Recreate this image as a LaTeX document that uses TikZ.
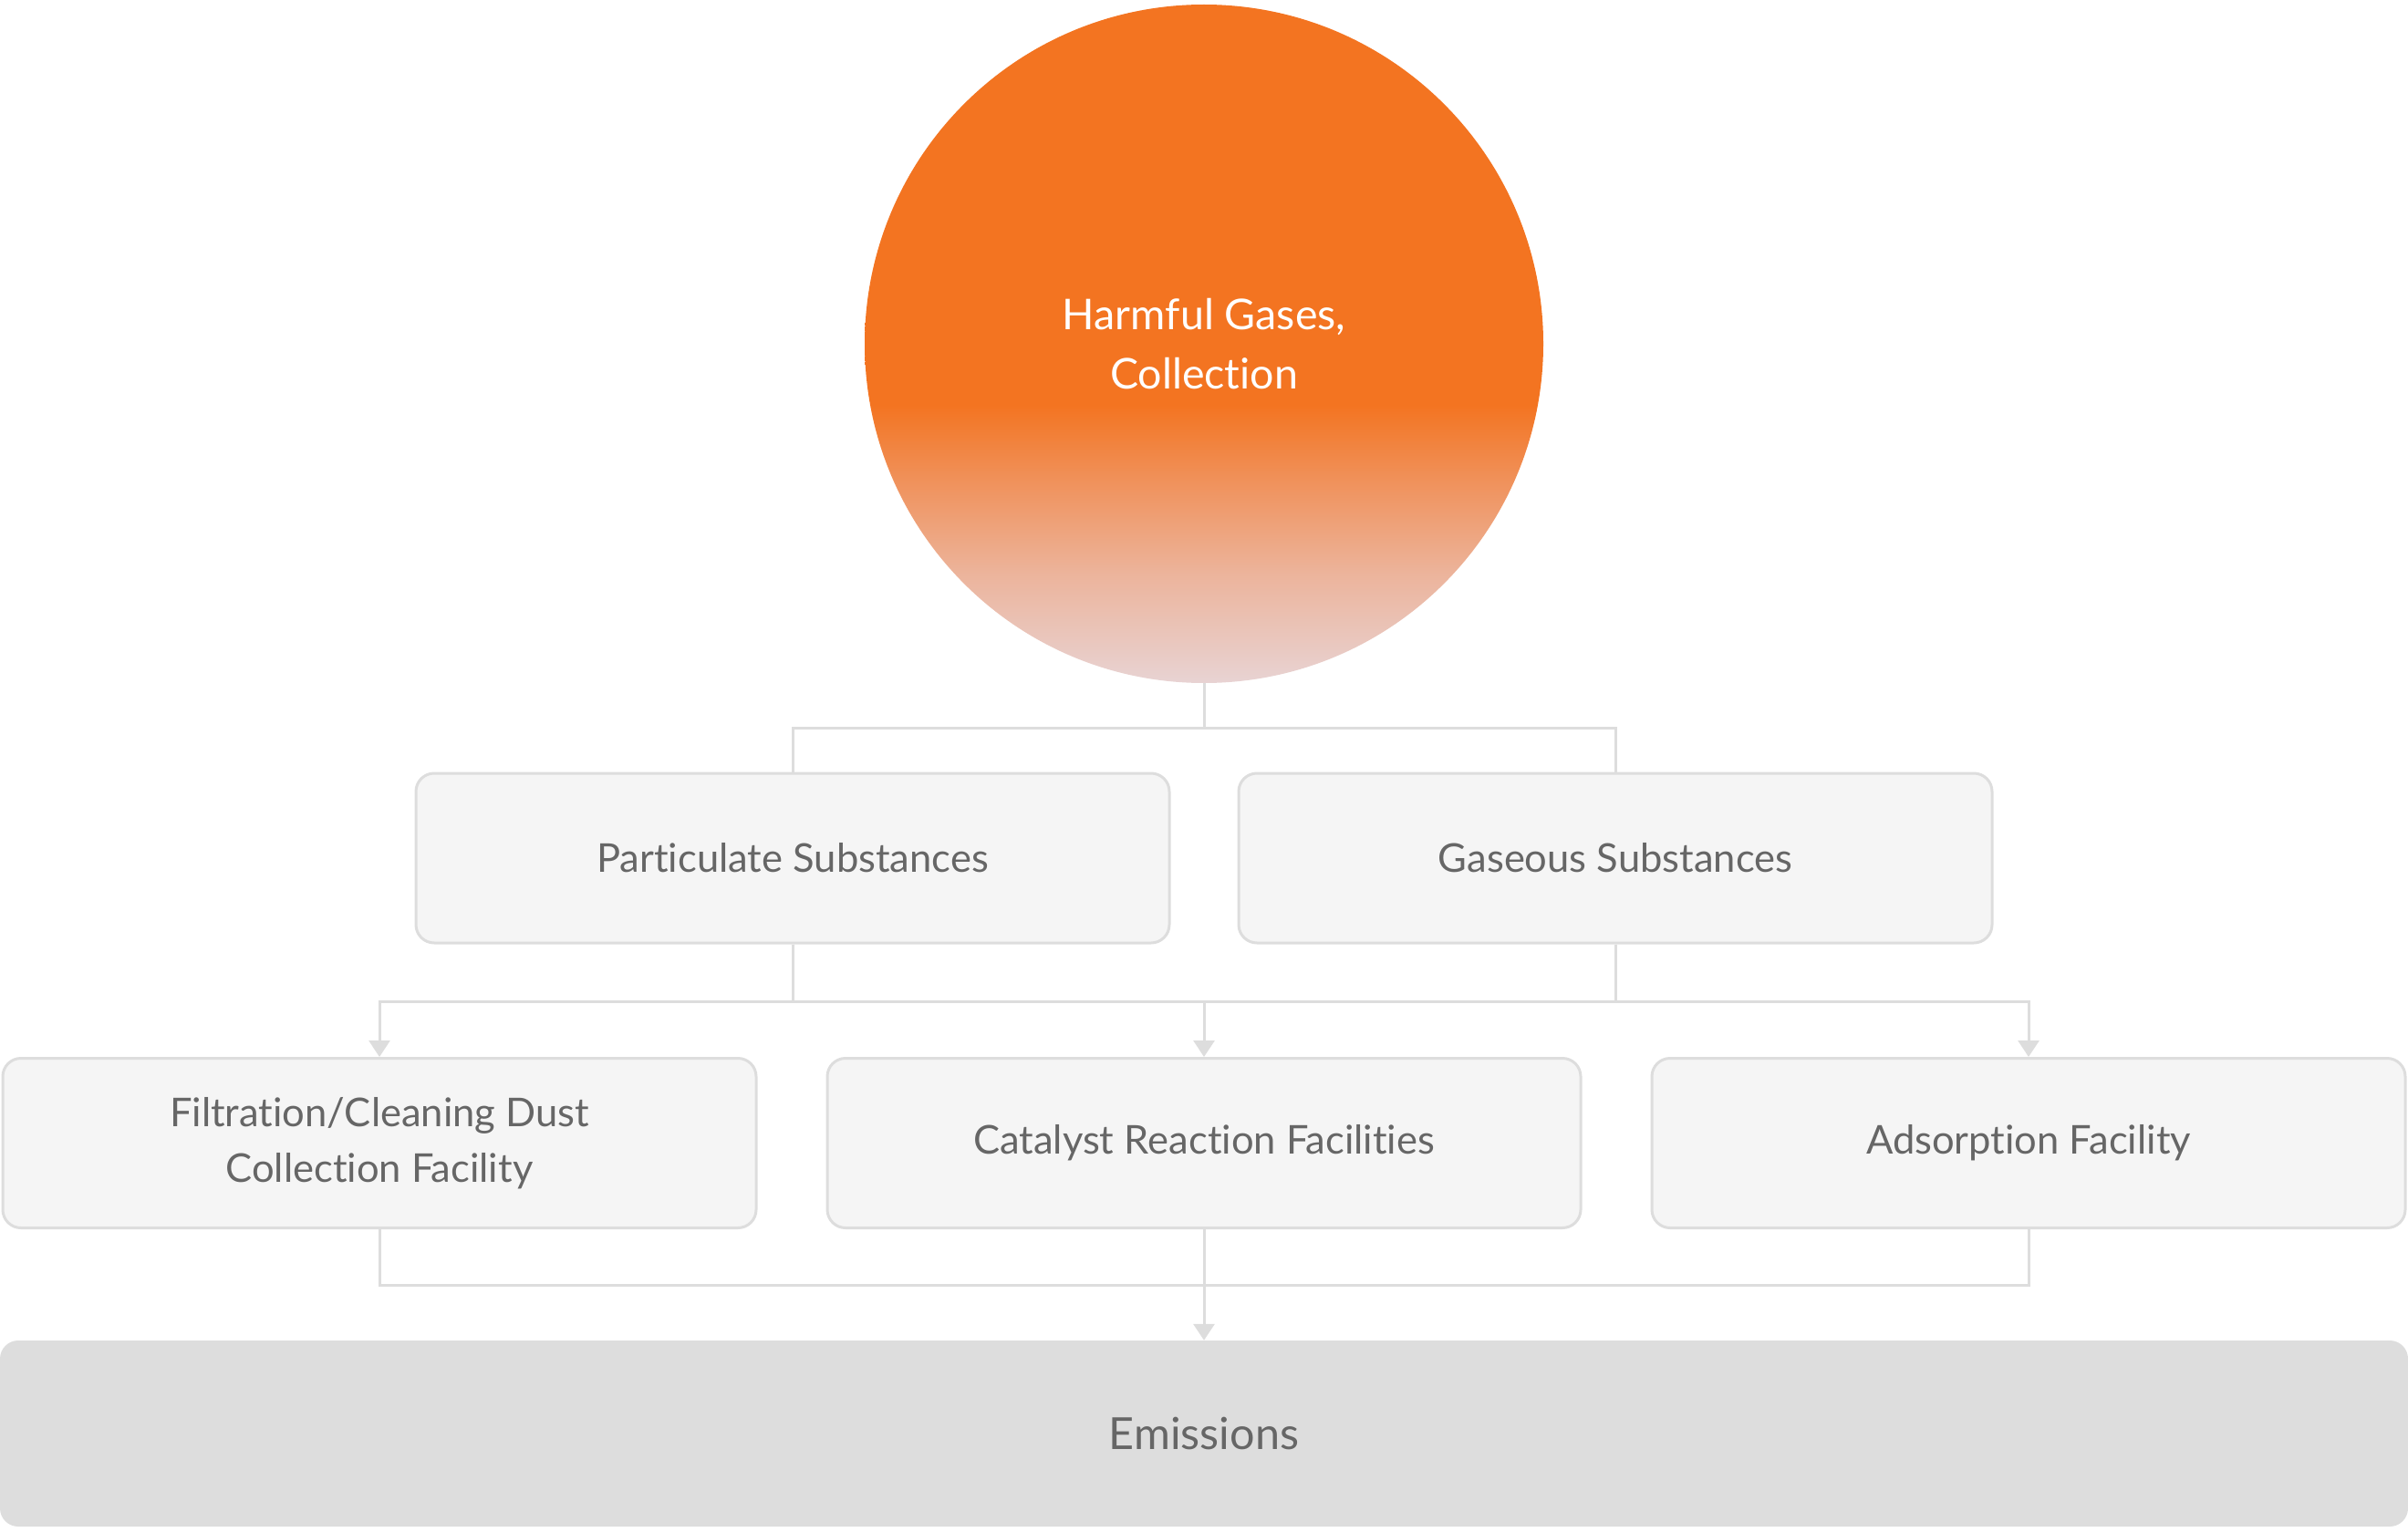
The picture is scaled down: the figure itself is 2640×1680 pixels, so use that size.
\documentclass[tikz,border=0pt]{standalone}
\usepackage{fontspec}
\setmainfont[Ligatures=NoCommon]{Lato}
\usetikzlibrary{arrows.meta,positioning}
\definecolor{orng}{HTML}{F37421}
\definecolor{pinkbot}{HTML}{E8D3D3}
\definecolor{midA}{HTML}{ECB49C}
\definecolor{midB}{HTML}{F0915A}
\definecolor{boxfill}{HTML}{F5F5F5}
\definecolor{boxline}{HTML}{DDDDDD}
\definecolor{txtgray}{HTML}{666666}
\definecolor{emfill}{HTML}{DDDDDD}
\pgfdeclareverticalshading{circshade}{100bp}{color(0bp)=(pinkbot); color(25bp)=(pinkbot); color(33bp)=(midA); color(40bp)=(midB); color(45.5bp)=(orng); color(100bp)=(orng)}
\tikzset{
  procbox/.style={draw=boxline, line width=3pt, fill=boxfill, rounded corners=20pt,
    minimum width=826pt, minimum height=186pt, inner sep=0pt, align=center,
    text=txtgray, font=\fontsize{43.5}{61}\selectfont},
  embox/.style={fill=emfill, rounded corners=20pt, minimum width=2640pt, minimum height=204pt,
    inner sep=0pt, text=txtgray, font=\fontsize{48.5}{60}\selectfont},
  conn/.style={draw=boxline, line width=3pt},
  arr/.style={conn, -{Triangle[width=23pt,length=18pt]}}
}
\begin{document}
\begin{tikzpicture}[x=1pt,y=-1pt]
\useasboundingbox (0,0) rectangle (2640,1680);
\node[circle, minimum size=744pt, inner sep=0pt, shading=circshade, align=center,
  text=white, font=\fontsize{46.5}{65}\selectfont] (circ) at (1320,377) {Harmful Gases,\\Collection};
\node[procbox] (b1) at (869,941) {\raisebox{-3pt}{Particulate Substances}};
\node[procbox] (b2) at (1771,941) {\raisebox{-3pt}{Gaseous Substances}};
\node[procbox] (c1) at (416,1253.5) {\raisebox{-3pt}{\begin{tabular}{@{}c@{}}Filtration/Cleaning Dust\\Collection Facility\end{tabular}}};
\node[procbox] (c2) at (1320,1253.5) {\raisebox{-3pt}{Catalyst Reaction Facilities}};
\node[procbox] (c3) at (2224,1253.5) {\raisebox{-3pt}{Adsorption Facility}};
\node[embox] (em) at (1320,1572) {Emissions};
\coordinate (j1) at (1320,798);
\coordinate (j2) at (1320,1098);
\coordinate (j3) at (1320,1409);
\draw[conn] (circ.south) -- (j1);
\draw[conn] (b1.north) |- (j1) -| (b2.north);
\draw[conn] (b1.south) |- (j2);
\draw[conn] (b2.south) |- (j2);
\draw[arr] (j2) -| (c1.north);
\draw[arr] (j2) -| (c3.north);
\draw[arr] (j2) -- (c2.north);
\draw[conn] (c1.south) |- (j3);
\draw[conn] (c3.south) |- (j3);
\draw[arr] (c2.south) -- (em.north);
\end{tikzpicture}
\end{document}
